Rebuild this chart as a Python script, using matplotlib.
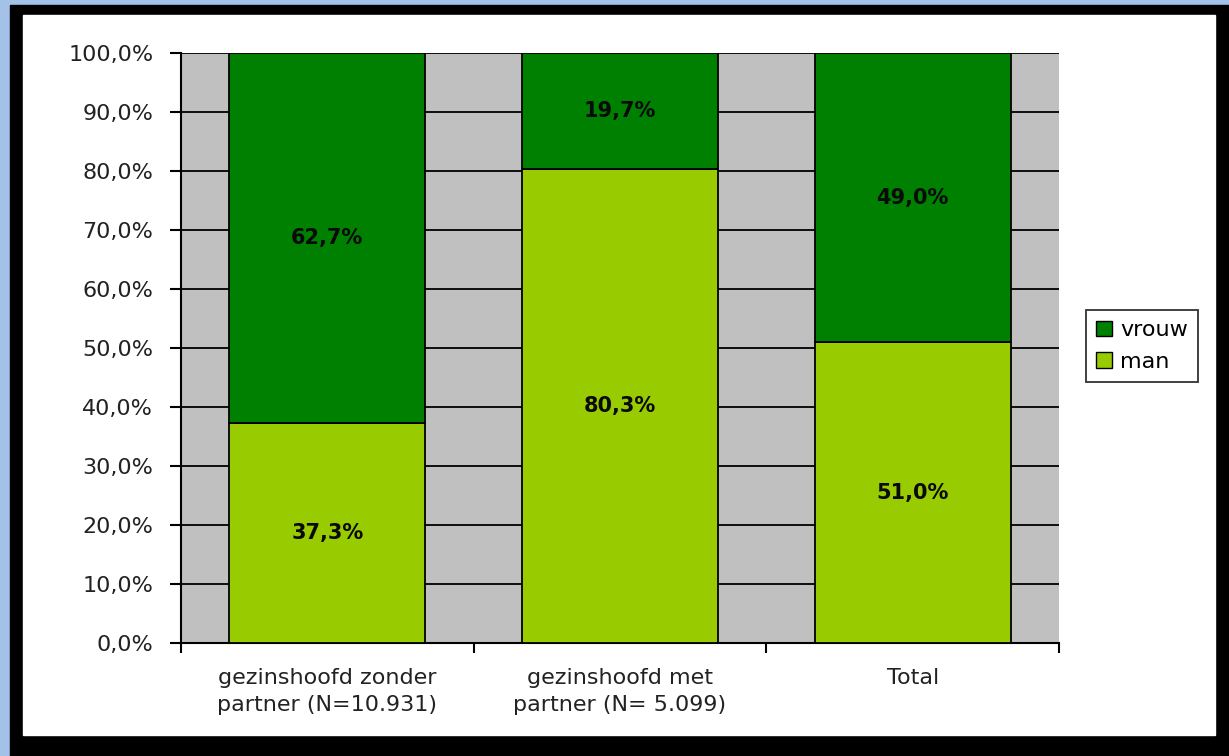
import matplotlib.pyplot as plt
from matplotlib.patches import Rectangle, Patch

# data
categories = ["gezinshoofd zonder\npartner (N=10.931)",
              "gezinshoofd met\npartner (N= 5.099)",
              "Total"]
man = [37.3, 80.3, 51.0]
vrouw = [62.7, 19.7, 49.0]
yticks = [0, 10, 20, 30, 40, 50, 60, 70, 80, 90, 100]

W, H = 1229, 756
fig = plt.figure(figsize=(W / 100, H / 100), dpi=100)
fig.patch.set_facecolor("#a4c2e8")
plt.rcParams['font.family'] = ['DejaVu Sans']

# black frame with white panel
fig.patches.append(Rectangle((10 / W, 0), 1 - 10 / W, 1 - 5 / H,
                             transform=fig.transFigure, color="black", zorder=-10))
fig.patches.append(Rectangle((23 / W, (756 - 735) / H), (1215 - 23) / W, (735 - 15) / H,
                             transform=fig.transFigure, color="white", zorder=-9))

ax = fig.add_axes([181 / W, (H - 643) / H, (1059 - 181) / W, (643 - 53) / H])
ax.set_facecolor("#c0c0c0")

x = range(len(categories))
dark = "#008000"
light = "#99cc00"
b1 = ax.bar(x, man, width=0.67, color=light, edgecolor="black", linewidth=1.3, zorder=3)
b2 = ax.bar(x, vrouw, bottom=man, width=0.67, color=dark, edgecolor="black", linewidth=1.3, zorder=3)

fmt = lambda v: f"{v:.1f}%".replace(".", ",")
ax.bar_label(b1, labels=[fmt(v) for v in man], label_type="center",
             fontsize=15, fontweight="bold", color="#0a0a0a")
ax.bar_label(b2, labels=[fmt(v) for v in vrouw], label_type="center",
             fontsize=15, fontweight="bold", color="#0a0a0a")

ax.set_xlim(-0.5, len(categories) - 0.5)
ax.set_ylim(0, 100)
ax.set_yticks(yticks)
ax.set_yticklabels([fmt(v) for v in yticks], fontsize=16, color="#222222")
ax.yaxis.grid(True, color="black", linewidth=1.3, zorder=1)
ax.set_axisbelow(True)

ax.set_xticks(list(x))
ax.set_xticklabels(categories, fontsize=16, linespacing=1.45, color="#222222")
ax.set_xticks([-0.5, 0.5, 1.5, 2.5], minor=True)
ax.tick_params(axis="x", which="major", length=0, pad=18)
ax.tick_params(axis="x", which="minor", length=7, width=1.5, direction="out")
ax.tick_params(axis="y", length=8, width=1.5, direction="out", pad=12)

for s in ["top", "right"]:
    ax.spines[s].set_visible(False)
for s in ["left", "bottom"]:
    ax.spines[s].set_linewidth(1.5)

handles = [Patch(facecolor=dark, edgecolor="black"), Patch(facecolor=light, edgecolor="black")]
leg = fig.legend(handles, ["vrouw", "man"], loc="center left",
                 bbox_to_anchor=(1086 / W, 1 - 346 / H), fontsize=16,
                 frameon=True, fancybox=False, edgecolor="black",
                 handlelength=0.7, handleheight=0.7, handletextpad=0.4,
                 borderpad=0.45, labelspacing=0.5, borderaxespad=0)
leg.get_frame().set_linewidth(1.3)

fig.savefig("out.png", dpi=100, facecolor=fig.get_facecolor())
